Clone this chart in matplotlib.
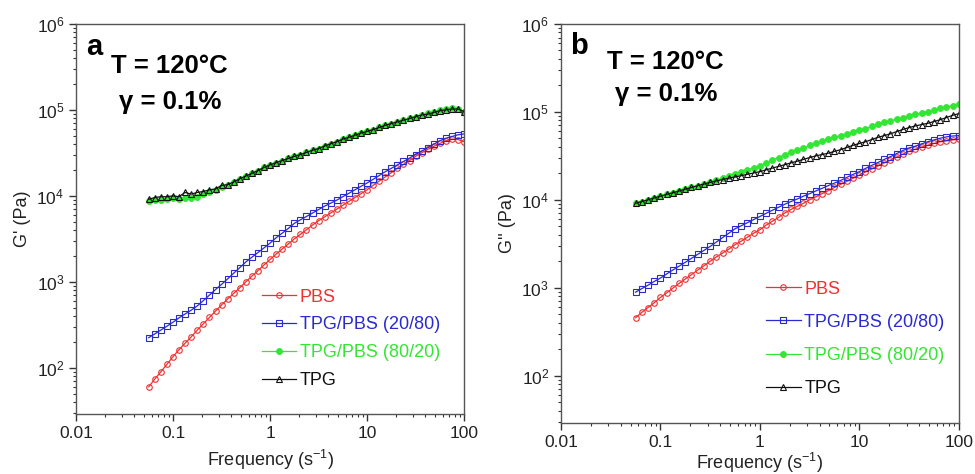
import numpy as np
import matplotlib
matplotlib.use('Agg')
import matplotlib.pyplot as plt
from matplotlib.ticker import LogLocator, FuncFormatter, NullFormatter

plt.rcParams['font.family'] = ['Liberation Sans', 'DejaVu Sans']
plt.rcParams['mathtext.fontset'] = 'custom'
plt.rcParams['mathtext.rm'] = 'Liberation Sans'
plt.rcParams['mathtext.it'] = 'Liberation Sans:italic'
plt.rcParams['mathtext.bf'] = 'Liberation Sans:bold'

# angular frequency (s^-1)
freq = [0.0562, 0.0649, 0.075, 0.0866, 0.1, 0.115, 0.133, 0.154, 0.178, 0.205,
        0.237, 0.274, 0.316, 0.365, 0.422, 0.487, 0.562, 0.649, 0.75, 0.866,
        1, 1.15, 1.33, 1.54, 1.78, 2.05, 2.37, 2.74, 3.16, 3.65,
        4.22, 4.87, 5.62, 6.49, 7.5, 8.66, 10, 11.5, 13.3, 15.4,
        17.8, 20.5, 23.7, 27.4, 31.6, 36.5, 42.2, 48.7, 56.2, 64.9,
        75, 86.6, 100]

# storage modulus G' (Pa)
g1_pbs = [60, 74, 90, 110, 135, 162, 193, 229, 275, 324,
          385, 457, 537, 631, 733, 851, 1000, 1160, 1350, 1570,
          1820, 2090, 2400, 2750, 3160, 3550, 4030, 4570, 5130, 5690,
          6310, 7000, 7760, 8610, 9550, 10600, 11750, 13200, 14800, 16600,
          18600, 20900, 23200, 25700, 28800, 31600, 34700, 37600, 40700, 43700,
          45700, 45200, 42700]
g1_2080 = [224, 248, 275, 305, 339, 380, 422, 468, 525, 603,
           700, 813, 933, 1080, 1260, 1460, 1700, 1930, 2190, 2480,
           2820, 3240, 3670, 4170, 4790, 5250, 5750, 6310, 6920, 7590,
           8220, 8910, 9770, 10700, 11750, 12900, 14100, 15500, 17200, 19100,
           20900, 22900, 25100, 27500, 30200, 33100, 36300, 39800, 43700, 46800,
           49000, 51300, 52500]
g1_8020 = [8710, 8910, 9020, 9120, 9330, 9230, 9330, 9550, 9770, 10500,
           11100, 11750, 12600, 13500, 14600, 15800, 17000, 18200, 19700, 21400,
           22900, 24300, 25700, 27200, 28800, 30200, 32000, 33900, 35500, 38000,
           40300, 42700, 45700, 47900, 50700, 53700, 56200, 58900, 62400, 66100,
           69200, 72400, 75900, 79400, 83200, 87100, 91200, 95500, 100000, 102300,
           104700, 102300, 95500]
g1_tpg = [9120, 9550, 9770, 9770, 10000, 9770, 10960, 10470, 10960, 11220,
          11750, 12020, 13200, 13500, 14500, 15800, 17000, 18200, 19700, 21400,
          22900, 24300, 25700, 27200, 28800, 30200, 32000, 33900, 35500, 38000,
          40300, 42700, 45700, 47900, 50700, 53700, 56200, 58900, 62400, 66100,
          69200, 72400, 75900, 79400, 83200, 87100, 89100, 93300, 97700, 100000,
          102300, 102300, 95500]

# loss modulus G'' (Pa)
g2_pbs = [457, 525, 596, 676, 776, 871, 989, 1120, 1260, 1410,
          1590, 1780, 2000, 2240, 2480, 2750, 3090, 3390, 3760, 4170,
          4570, 5130, 5690, 6310, 7080, 7760, 8410, 9120, 10000, 10800,
          11750, 12700, 13800, 15000, 16200, 17600, 19100, 20700, 22400, 24300,
          26300, 28200, 30600, 33100, 35500, 37600, 39800, 41700, 43700, 45700,
          46800, 47900, 49000]
g2_2080 = [891, 977, 1070, 1180, 1290, 1430, 1590, 1760, 1950, 2160,
           2400, 2660, 2950, 3310, 3720, 4170, 4680, 5070, 5500, 5960,
           6460, 7000, 7590, 8220, 8910, 9550, 10200, 11000, 11750, 12600,
           13500, 14500, 15500, 16600, 18000, 19500, 20900, 22700, 24600, 26600,
           28800, 30900, 33500, 36300, 38900, 40700, 43200, 45700, 47900, 50100,
           51900, 53100, 53700]
g2_8020 = [9120, 9550, 10000, 10500, 11000, 11500, 12000, 12600, 13200, 13800,
           14500, 15100, 15800, 16600, 17600, 18600, 19500, 20700, 21900, 23200,
           24500, 26300, 28200, 30200, 32400, 34700, 36700, 38900, 41700, 43700,
           46200, 49000, 51300, 53700, 56200, 58900, 61700, 64600, 68400, 72400,
           75900, 79400, 82200, 85100, 89100, 93300, 96600, 100000, 104700, 109600,
           113500, 117500, 123000]
g2_tpg = [9120, 9550, 10000, 10500, 11000, 11500, 12000, 12600, 13200, 13800,
          14500, 15100, 15800, 16400, 17000, 17600, 18200, 18800, 19500, 20200,
          20900, 21900, 22900, 24000, 25100, 26300, 27500, 28800, 30200, 31600,
          32700, 33900, 35500, 37200, 39400, 41700, 43700, 45700, 48400, 51300,
          53700, 56200, 59600, 63100, 66100, 69200, 71600, 74100, 77600, 81300,
          86100, 91200, 95500]

labels = ['PBS', 'TPG/PBS (20/80)', 'TPG/PBS (80/20)', 'TPG']
colors = ['#f03030', '#2a2ad0', '#33e633', '#111111']

fig = plt.figure(figsize=(9.75, 4.74), dpi=100)
ax1 = fig.add_axes([0.078, 0.1266, 0.398, 0.823])
ax2 = fig.add_axes([0.5754, 0.1076, 0.408, 0.842])


def draw(ax, series, ylabel, letter, legend_pos, spacing, xpad, tpos):
    styles = [dict(marker='o', mfc='none', ms=4, mew=0.8),
              dict(marker='s', mfc='none', ms=5, mew=0.8),
              dict(marker='o', mfc=colors[2], ms=4.3, mew=0.6),
              dict(marker='^', mfc='none', ms=4.5, mew=0.8)]
    for i in range(4):
        ax.plot(freq, series[i], color=colors[i], lw=0.9, label=labels[i],
                mec=colors[i], **styles[i])
    ax.set_xscale('log')
    ax.set_yscale('log')
    ax.set_xlim(0.01, 100)
    ax.set_ylim(29, 1e6)
    ax.xaxis.set_major_locator(LogLocator(base=10, numticks=10))
    ax.xaxis.set_minor_locator(LogLocator(base=10, subs=np.arange(2, 10), numticks=20))
    ax.xaxis.set_major_formatter(FuncFormatter(lambda v, p: '{:g}'.format(v)))
    ax.xaxis.set_minor_formatter(NullFormatter())
    ax.yaxis.set_major_locator(LogLocator(base=10, numticks=10))
    ax.yaxis.set_minor_locator(LogLocator(base=10, subs=np.arange(2, 10), numticks=20))
    ax.yaxis.set_minor_formatter(NullFormatter())
    ax.tick_params(which='major', direction='out', length=5, width=1, labelsize=12.5,
                   top=False, right=False, colors='#333333', labelcolor='#222222')
    ax.tick_params(which='minor', direction='out', length=2.5, width=0.8,
                   top=False, right=False, colors='#333333')
    for s in ax.spines.values():
        s.set_color('#555555')
        s.set_linewidth(1.0)
    ax.set_xlabel('Frequency (s$^{-1}$)', fontsize=13, labelpad=xpad, color='#222222')
    ax.set_ylabel(ylabel, fontsize=13, labelpad=4, color='#222222')
    ax.text(tpos[0], tpos[1], letter, transform=ax.transAxes, fontsize=21,
            fontweight='bold', va='center', ha='left')
    ax.text(tpos[2], tpos[3], 'T = 120°C', transform=ax.transAxes, fontsize=18.5,
            fontweight='bold', va='center', ha='left')
    ax.text(tpos[4], tpos[5], 'γ = 0.1%', transform=ax.transAxes, fontsize=18.5,
            fontweight='bold', va='center', ha='left')
    ax.legend(loc='upper left', bbox_to_anchor=legend_pos, frameon=False,
              fontsize=13, handlelength=1.9, handletextpad=0.2,
              labelspacing=spacing, labelcolor='linecolor', borderaxespad=0)


draw(ax1, [g1_pbs, g1_2080, g1_8020, g1_tpg], "G' (Pa)", 'a', (0.46, 0.34), 0.6, 5,
     (0.025, 0.94, 0.09, 0.893, 0.11, 0.80))
draw(ax2, [g2_pbs, g2_2080, g2_8020, g2_tpg], "G'' (Pa)", 'b', (0.498, 0.375), 0.9, 0.5,
     (0.022, 0.945, 0.115, 0.905, 0.135, 0.825))

plt.savefig('out.png', dpi=100)
plt.close(fig)
